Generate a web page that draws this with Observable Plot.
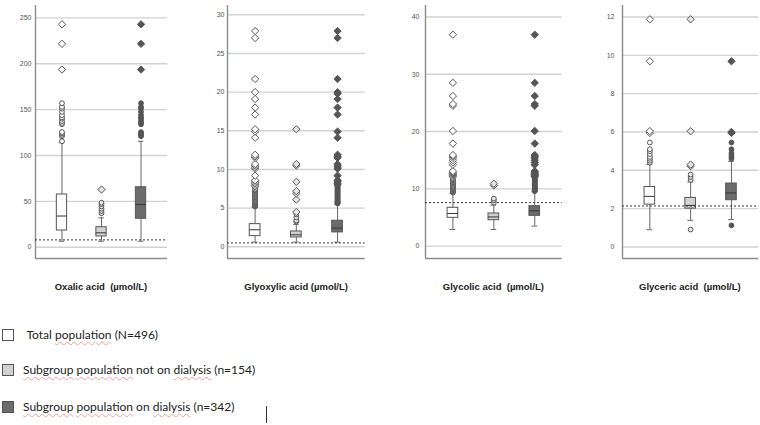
<!DOCTYPE html>
<html>
<head>
<meta charset="utf-8">
<script src="https://cdn.jsdelivr.net/npm/d3@7"></script>
<script src="https://cdn.jsdelivr.net/npm/@observablehq/plot@0.6"></script>
<style>
  body { margin: 0; background: #fff; }
  #chart { position: relative; width: 760px; height: 425px; overflow: hidden; font-family: "Liberation Sans", Arial, sans-serif; }
  .panel { position: absolute; top: 0; }
  .title { position: absolute; top: 281px; font-weight: bold; font-size: 9.5px; white-space: pre; transform: translateX(-50%); color: #222; }
  .legend-text { position: absolute; font-family: Lato, "Open Sans", sans-serif; font-size: 12px; line-height: 14px; color: #222; white-space: pre; }
  .swatch { position: absolute; left: 2px; width: 10px; height: 10px; border: 1px solid #555; }
  .spell { text-decoration: underline wavy #f0a0a0; text-decoration-thickness: 1px; text-underline-offset: 2px; }
  .caret { position: absolute; left: 266px; top: 406px; width: 1px; height: 17px; background: #333; }
</style>
</head>
<body>
<div id="chart"></div>
<script>
// Groups (legend order) and the four analytes
const groups = ["Total population (N=496)", "Subgroup population not on dialysis (n=154)", "Subgroup population on dialysis (n=342)"];
const analytes = ["Oxalic acid  (\u00b5mol/L)", "Glyoxylic acid (\u00b5mol/L)", "Glycolic acid  (\u00b5mol/L)", "Glyceric acid  (\u00b5mol/L)"];

// Y-axis tick values per analyte
const oxalicTicks = [0, 50, 100, 150, 200, 250];
const glyoxylicTicks = [0, 5, 10, 15, 20, 25, 30];
const glycolicTicks = [0, 10, 20, 30, 40];
const glycericTicks = [0, 2, 4, 6, 8, 10, 12];

// Upper reference limit (dashed line) per analyte
const referenceLimits = [8, 0.5, 7.6, 2.14];

// Box summaries per group: [lower whisker, Q1, median, Q3, upper whisker]
const oxalicBoxes = [[6.5, 18.2, 34, 57.5, 114], [6.5, 11.7, 15.7, 21.8, 32], [6.5, 31, 46.6, 65.4, 115.5]];
const glyoxylicBoxes = [[0.6, 1.38, 2.2, 2.93, 5.1], [0.6, 1.21, 1.55, 1.98, 2.9], [0.6, 1.86, 2.42, 3.37, 5.5]];
const glycolicBoxes = [[2.9, 4.94, 5.7, 6.69, 9.2], [2.9, 4.53, 5.1, 5.7, 7.15], [3.5, 5.29, 6.16, 6.98, 9.5]];
const glycericBoxes = [[0.9, 2.21, 2.64, 3.13, 4.3], [1.39, 2.0, 2.17, 2.56, 3.39], [1.43, 2.44, 2.82, 3.31, 4.47]];

// Outliers (circles) per group
const oxalicOutliers = [
  [115.5, 121, 122.5, 124, 125.5, 134, 135.5, 137.5, 140, 141.5, 144, 147.5, 151, 153, 157],
  [37, 39.5, 42, 44.5, 47, 48.5],
  [121, 122.5, 124, 125.5, 134, 135.5, 137.5, 140, 141.5, 144, 147.5, 151, 153, 157]
];
const glyoxylicOutliers = [
  [5.2, 5.25, 5.3, 5.35, 5.4, 5.45, 5.5, 5.55, 5.6, 5.7, 5.75, 5.8, 5.9, 6.0, 6.1, 6.2, 6.3, 6.4, 6.5, 6.6, 6.7, 6.8, 6.9, 7.0, 7.1, 7.2, 7.3, 7.4, 7.5],
  [3.25, 3.4, 3.8, 4.2],
  [5.6, 5.65, 5.7, 5.75, 5.8, 5.9, 6.0, 6.1, 6.2, 6.3, 6.4, 6.5, 6.6, 6.7, 6.8, 6.9, 7.0, 7.1, 7.2, 7.3, 7.4, 7.5, 7.6, 7.7, 7.8]
];
const glycolicOutliers = [
  [9.35, 9.45, 9.55, 9.65, 9.75, 9.85, 9.95, 10.1, 10.25, 10.4, 10.55, 10.7, 10.85, 11.0, 11.15, 11.3, 11.5, 11.65, 11.8],
  [7.6, 8.0, 8.3],
  [9.6, 9.7, 9.8, 9.9, 10.0, 10.15, 10.3, 10.45, 10.6, 10.75, 10.9, 11.05, 11.2, 11.35, 11.5, 11.65, 11.8, 11.95]
];
const glycericOutliers = [
  [4.4, 4.5, 4.6, 4.7, 4.85, 5.0, 5.1, 5.45],
  [0.91, 3.5, 3.65, 3.78],
  [1.13, 4.6, 4.7, 4.8, 4.9, 5.1, 5.45]
];

// Extreme values (diamonds) per group
const oxalicExtremes = [[193.7, 221.7, 243], [62.9], [193.7, 221.7, 243]];
const glyoxylicExtremes = [
  [7.8, 8.0, 8.2, 8.4, 8.6, 9.2, 10.1, 10.3, 10.5, 10.7, 11.5, 11.7, 11.9, 14.1, 14.9, 15.2, 17.1, 18.0, 19.1, 20.0, 21.7, 27.0, 27.9],
  [4.5, 6.1, 6.9, 7.2, 8.4, 10.5, 10.7, 15.2],
  [8.0, 8.2, 8.4, 8.6, 9.2, 10.1, 10.3, 10.5, 10.7, 11.5, 11.7, 11.9, 14.1, 14.9, 17.1, 18.0, 19.1, 19.8, 20.0, 21.7, 27.0, 27.9]
];
const glycolicExtremes = [
  [12.1, 12.3, 12.5, 12.7, 12.9, 13.1, 14.2, 14.6, 15.0, 15.4, 15.7, 15.9, 17.9, 20.1, 24.5, 24.8, 26.2, 28.5, 36.9],
  [10.6, 10.9],
  [12.1, 12.3, 12.5, 12.7, 12.9, 13.1, 14.2, 14.6, 15.0, 15.4, 15.7, 15.9, 17.9, 20.1, 24.5, 24.8, 26.2, 28.5, 36.9]
];
const glycericExtremes = [[5.95, 6.05, 9.69, 11.88], [4.22, 4.3, 6.04, 11.88], [5.95, 6.0, 9.69]];

const tickSets = [oxalicTicks, glyoxylicTicks, glycolicTicks, glycericTicks];
const boxSets = [oxalicBoxes, glyoxylicBoxes, glycolicBoxes, glycericBoxes];
const outlierSets = [oxalicOutliers, glyoxylicOutliers, glycolicOutliers, glycericOutliers];
const extremeSets = [oxalicExtremes, glyoxylicExtremes, glycolicExtremes, glycericExtremes];

// Layout and styling
const yDomains = [[-12.3, 263.5], [-1.51, 31.2], [-2.15, 42.0], [-0.6, 12.6]];
const axisX = [35, 227.3, 425, 621.7];
const frameWidths = [132, 137.7, 136.7, 136.3];
const tickPads = [4, 3, 6, 8];
const boxFill = ["#ffffff", "#d2d2d2", "#6b6b6b"];
const markFill = ["#ffffff", "#e4e4e4", "#555555"];
const xDomain = [0.33, 3.67];
const ML = 35;

const chart = document.getElementById("chart");

boxSets.forEach((boxes, i) => {
  const rows = boxes.map((s, g) => ({g, pos: g + 1, lo: s[0], q1: s[1], med: s[2], q3: s[3], hi: s[4]}));
  const flat = (sets) => sets.flatMap((vals, g) => vals.map(v => ({g, pos: g + 1, v})));
  const outs = flat(outlierSets[i]);
  const exts = flat(extremeSets[i]);
  const [y0] = yDomains[i];

  const svg = Plot.plot({
    width: ML + frameWidths[i],
    height: 262,
    marginLeft: ML, marginRight: 0, marginTop: 5, marginBottom: 4,
    style: {fontSize: "7px", fontFamily: "'Liberation Sans', Arial, sans-serif", color: "#555", background: "transparent", overflow: "visible"},
    x: {domain: xDomain, axis: null},
    y: {domain: yDomains[i], ticks: tickSets[i], tickSize: 0, tickPadding: tickPads[i], label: null},
    color: {type: "identity"},
    marks: [
      Plot.ruleY(tickSets[i], {stroke: "#d2d2d2", strokeWidth: 1.4}),
      Plot.ruleX([xDomain[0]], {stroke: "#8c8c8c", strokeWidth: 1.4}),
      Plot.ruleY([y0], {stroke: "#8c8c8c", strokeWidth: 1.4}),
      // whiskers and caps
      Plot.ruleX(rows, {x: "pos", y1: "lo", y2: "q1", stroke: "#666", strokeWidth: 1}),
      Plot.ruleX(rows, {x: "pos", y1: "q3", y2: "hi", stroke: "#666", strokeWidth: 1}),
      Plot.ruleY(rows, {y: "lo", x1: d => d.pos - 0.07, x2: d => d.pos + 0.07, stroke: "#666", strokeWidth: 1}),
      Plot.ruleY(rows, {y: "hi", x1: d => d.pos - 0.07, x2: d => d.pos + 0.07, stroke: "#666", strokeWidth: 1}),
      // boxes and medians
      Plot.rect(rows, {x1: d => d.pos - 0.13, x2: d => d.pos + 0.13, y1: "q1", y2: "q3", fill: d => boxFill[d.g], stroke: "#555", strokeWidth: 1}),
      Plot.ruleY(rows, {y: "med", x1: d => d.pos - 0.13, x2: d => d.pos + 0.13, stroke: "#333", strokeWidth: 1}),
      // reference limit
      Plot.ruleY([referenceLimits[i]], {stroke: "#333", strokeWidth: 1, strokeDasharray: "2,2"}),
      // outliers and extremes
      Plot.dot(outs, {x: "pos", y: "v", r: 2.4, symbol: "circle", fill: d => markFill[d.g], stroke: "#555", strokeWidth: 1}),
      Plot.dot(exts, {x: "pos", y: "v", r: 3.3, symbol: "diamond2", fill: d => markFill[d.g], stroke: "#555", strokeWidth: 1})
    ]
  });
  svg.classList.add("panel");
  svg.style.left = (axisX[i] - ML) + "px";
  chart.appendChild(svg);

  const t = document.createElement("div");
  t.className = "title";
  t.textContent = analytes[i];
  const pxPerUnit = frameWidths[i] / (xDomain[1] - xDomain[0]);
  t.style.left = (axisX[i] + (2 - xDomain[0]) * pxPerUnit) + "px";
  chart.appendChild(t);
});

// Legend
const legendY = [335, 370, 407];
const legendX = [26.5, 23, 23];
const flagged = new Set(["population", "Subgroup", "dialysis"]);
groups.forEach((label, g) => {
  const sw = document.createElement("div");
  sw.className = "swatch";
  sw.style.top = (legendY[g] - 6) + "px";
  sw.style.background = boxFill[g];
  chart.appendChild(sw);

  const tx = document.createElement("div");
  tx.className = "legend-text";
  tx.style.left = legendX[g] + "px";
  tx.style.top = (legendY[g] - 7) + "px";
  label.split(" ").forEach((w, k) => {
    if (k > 0) tx.appendChild(document.createTextNode(" "));
    if (flagged.has(w)) {
      const s = document.createElement("span");
      s.className = "spell";
      s.textContent = w;
      tx.appendChild(s);
    } else {
      tx.appendChild(document.createTextNode(w));
    }
  });
  chart.appendChild(tx);
});

const caret = document.createElement("div");
caret.className = "caret";
chart.appendChild(caret);
</script>
</body>
</html>
